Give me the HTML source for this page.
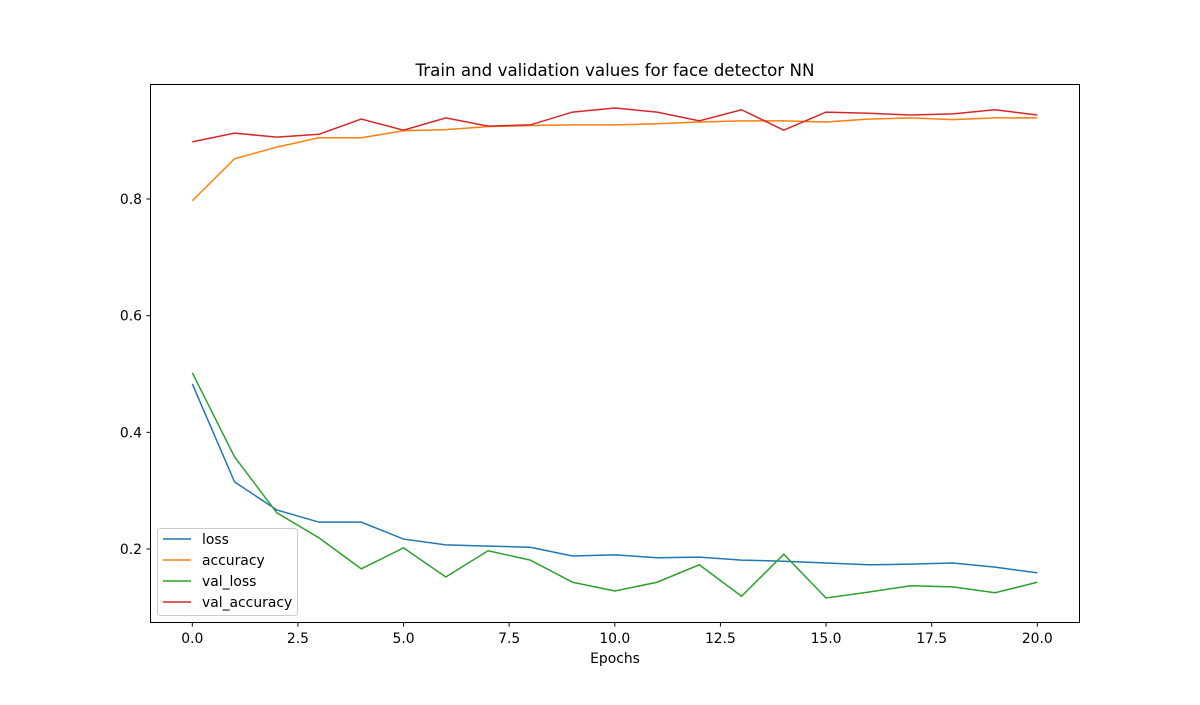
<!DOCTYPE html>
<html><head><meta charset="utf-8">
<style>
html,body{margin:0;padding:0;background:#fff;}
svg text{font-family:"DejaVu Sans","Liberation Sans",sans-serif;fill:#000;}
</style></head>
<body>
<svg id="chart" width="1200" height="700" xmlns="http://www.w3.org/2000/svg">
<rect width="1200" height="700" fill="#fff"/>
<text x="615" y="76" font-size="16.7" text-anchor="middle">Train and validation values for face detector NN</text>
<g id="grid"></g>
<g id="series"></g>
<rect x="150.5" y="84.5" width="929" height="538" fill="none" stroke="#000" stroke-width="1"/>
<g id="ticks"></g>
<text x="615" y="663" font-size="13.9" text-anchor="middle">Epochs</text>
<g id="legend"></g>
</svg>
<script>
const epochs = [0,1,2,3,4,5,6,7,8,9,10,11,12,13,14,15,16,17,18,19,20];
const loss = [0.483,0.315,0.267,0.246,0.246,0.217,0.207,0.205,0.203,0.188,0.190,0.185,0.186,0.181,0.179,0.176,0.173,0.174,0.176,0.169,0.159];
const accuracy = [0.797,0.869,0.889,0.905,0.905,0.917,0.919,0.924,0.926,0.927,0.927,0.929,0.932,0.934,0.934,0.932,0.937,0.939,0.936,0.939,0.939];
const valLoss = [0.502,0.358,0.262,0.219,0.166,0.202,0.152,0.197,0.181,0.143,0.128,0.143,0.173,0.119,0.191,0.116,0.126,0.137,0.135,0.125,0.143];
const valAccuracy = [0.898,0.913,0.906,0.911,0.937,0.918,0.939,0.925,0.927,0.949,0.956,0.949,0.934,0.953,0.918,0.949,0.947,0.944,0.946,0.953,0.944];
const xTicks = [0,2.5,5,7.5,10,12.5,15,17.5,20];
const xTickLabels = ["0.0","2.5","5.0","7.5","10.0","12.5","15.0","17.5","20.0"];
const yTicks = [0.2,0.4,0.6,0.8];
const yTickLabels = ["0.2","0.4","0.6","0.8"];
const seriesNames = ["loss","accuracy","val_loss","val_accuracy"];
const seriesColors = ["#1f77b4","#ff7f0e","#2ca02c","#d62728"];

const NS="http://www.w3.org/2000/svg";
function xs(v){return 192.3 + v*42.25;}
function ys(v){return 199 - (v-0.8)*583.33;}
const seriesData=[loss,accuracy,valLoss,valAccuracy];
const sg=document.getElementById('series');
seriesData.forEach((arr,i)=>{
  const p=document.createElementNS(NS,'polyline');
  p.setAttribute('points',arr.map((v,j)=>xs(epochs[j])+','+ys(v)).join(' '));
  p.setAttribute('fill','none');p.setAttribute('stroke',seriesColors[i]);p.setAttribute('stroke-width','1.5');
  
  
  sg.appendChild(p);
});
const tg=document.getElementById('ticks');
xTicks.forEach((t,i)=>{
  const l=document.createElementNS(NS,'line');
  l.setAttribute('x1',xs(t));l.setAttribute('x2',xs(t));l.setAttribute('y1',623);l.setAttribute('y2',626.5);l.setAttribute('stroke','#000');
  
  
  tg.appendChild(l);
  const tx=document.createElementNS(NS,'text');
  tx.setAttribute('x',xs(t));tx.setAttribute('y',643);tx.setAttribute('font-size','13.9');tx.setAttribute('text-anchor','middle');
  tx.textContent=xTickLabels[i];
  
  
  tg.appendChild(tx);
});
yTicks.forEach((t,i)=>{
  const l=document.createElementNS(NS,'line');
  l.setAttribute('x1',146.5);l.setAttribute('x2',150);l.setAttribute('y1',ys(t));l.setAttribute('y2',ys(t));l.setAttribute('stroke','#000');
  
  
  tg.appendChild(l);
  const tx=document.createElementNS(NS,'text');
  tx.setAttribute('x',142);tx.setAttribute('y',ys(t)+5);tx.setAttribute('font-size','13.9');tx.setAttribute('text-anchor','end');
  tx.textContent=yTickLabels[i];
  
  
  tg.appendChild(tx);
});
const lg=document.getElementById('legend');
const box=document.createElementNS(NS,'rect');
box.setAttribute('x',157.5);box.setAttribute('y',528.5);box.setAttribute('width',140);box.setAttribute('height',87);box.setAttribute('rx',3);
box.setAttribute('fill','#fff');box.setAttribute('fill-opacity','0.8');box.setAttribute('stroke','#ccc');


lg.appendChild(box);
seriesNames.forEach((n,i)=>{
  const y=539+i*21;
  const l=document.createElementNS(NS,'line');
  l.setAttribute('x1',163);l.setAttribute('x2',191);l.setAttribute('y1',y);l.setAttribute('y2',y);
  l.setAttribute('stroke',seriesColors[i]);l.setAttribute('stroke-width','1.5');
  
  
  lg.appendChild(l);
  const tx=document.createElementNS(NS,'text');
  tx.setAttribute('x',202);tx.setAttribute('y',y+5);tx.setAttribute('font-size','13.9');
  tx.textContent=n;
  
  
  lg.appendChild(tx);
});
</script>
</body></html>
